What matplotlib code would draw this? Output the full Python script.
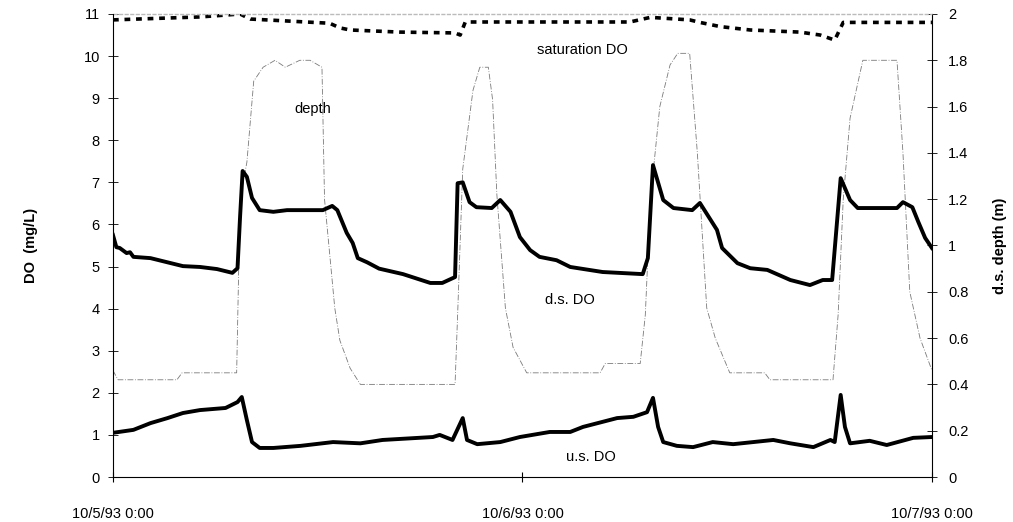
import matplotlib.pyplot as plt

plt.rcParams['font.family'] = ['Liberation Sans', 'DejaVu Sans']

# hours after 10/5/93 0:00
ds_hours = [0, 0.2, 0.4, 0.8, 1.0, 1.2, 2.2, 3.2, 4.1, 5.1, 6.1, 7.0, 7.3, 7.45, 7.6, 7.85,
            8.15, 8.6, 9.4, 10.2, 12.3, 12.85, 13.15, 13.7, 14.05, 14.35, 14.9, 15.6, 17.0,
            18.6, 19.3, 20.05, 20.2, 20.5, 20.9, 21.3, 22.2, 22.7, 23.3, 23.85, 24.45, 25.0,
            26.0, 26.8, 28.7, 31.05, 31.35, 31.65, 32.25, 32.85, 33.95, 34.4, 35.4, 35.7,
            36.6, 37.35, 38.35, 39.7, 40.85, 41.6, 42.15, 42.65, 43.2, 43.65, 45.95, 46.3,
            46.85, 47.2, 47.6, 48.0]
ds_do = [5.75, 5.46, 5.44, 5.32, 5.34, 5.23, 5.2, 5.1, 5.01, 4.99, 4.94, 4.85, 4.96, 6.18,
         7.27, 7.13, 6.63, 6.34, 6.3, 6.34, 6.34, 6.44, 6.34, 5.8, 5.56, 5.2, 5.1, 4.95, 4.82,
         4.61, 4.61, 4.75, 6.98, 7.0, 6.53, 6.41, 6.39, 6.58, 6.3, 5.7, 5.39, 5.23,
         5.15, 4.99, 4.87, 4.82, 5.2, 7.41, 6.58, 6.39, 6.34, 6.51, 5.87, 5.44,
         5.08, 4.96, 4.92, 4.68, 4.56, 4.68, 4.68, 7.1, 6.58, 6.39, 6.39, 6.53,
         6.41, 6.06, 5.68, 5.44]

us_hours = [0, 1.2, 2.2, 3.2, 4.1, 5.1, 6.6, 7.3, 7.55, 7.85, 8.15, 8.6, 9.4, 11.0, 12.9,
            14.5, 15.8, 18.75, 19.15, 19.9, 20.5, 20.75, 21.35, 22.7, 23.85, 25.6, 26.8,
            27.55, 29.55, 30.5, 31.3, 31.65, 31.95, 32.25, 33.05, 34.0, 35.15, 36.35, 38.7,
            39.7, 41.05, 42.05, 42.3, 42.65, 42.9, 43.2, 44.35, 45.35, 46.9, 48.0]
us_do = [1.05, 1.12, 1.28, 1.4, 1.52, 1.59, 1.64, 1.78, 1.9, 1.35, 0.83, 0.69, 0.69, 0.74,
         0.83, 0.8, 0.88, 0.95, 1.0, 0.88, 1.4, 0.88, 0.78, 0.83, 0.95, 1.07, 1.07,
         1.19, 1.4, 1.43, 1.54, 1.88, 1.19, 0.83, 0.74, 0.71, 0.83, 0.78, 0.88,
         0.8, 0.71, 0.88, 0.83, 1.95, 1.19, 0.8, 0.86, 0.76, 0.93, 0.95]

sat_hours = [0, 5.1, 7.45, 8.05, 12.7, 13.3, 13.9, 16.8, 20.05, 20.35, 20.65, 30.3, 31.5,
             33.8, 34.4, 35.6, 37.35, 40.25, 41.45, 42.3, 42.8, 48.0]
sat_do = [10.86, 10.93, 11.0, 10.88, 10.78, 10.67, 10.62, 10.57, 10.55, 10.5, 10.81, 10.81,
          10.92, 10.86, 10.8, 10.7, 10.62, 10.57, 10.5, 10.38, 10.8, 10.8]

depth_hours = [0, 0.3, 3.75, 4.05, 7.25, 7.45, 7.85, 8.25, 8.8, 9.5, 10.1, 10.95, 11.55,
               12.25, 12.4, 13.0, 13.3, 13.9, 14.5, 20.05, 20.2, 20.5, 21.1, 21.5, 22.0,
               22.25, 22.5, 23.0, 23.45, 24.25, 28.55, 28.85, 30.9, 31.2, 31.5, 32.05,
               32.65, 33.1, 33.8, 34.25, 34.8, 35.3, 36.15, 38.2, 38.5, 42.2, 42.5, 42.8,
               43.2, 43.95, 45.95, 46.3, 46.7, 47.3, 48.0]
depth_m = [0.46, 0.42, 0.42, 0.45, 0.45, 1.2, 1.36, 1.71, 1.77, 1.8, 1.77, 1.8, 1.8,
           1.77, 1.2, 0.73, 0.59, 0.47, 0.4, 0.4, 0.7, 1.33, 1.67, 1.77, 1.77,
           1.63, 1.22, 0.73, 0.56, 0.45, 0.45, 0.49, 0.49, 0.7, 1.2, 1.6,
           1.78, 1.83, 1.83, 1.4, 0.73, 0.6, 0.45, 0.45, 0.42, 0.42, 0.7, 1.2,
           1.55, 1.8, 1.8, 1.4, 0.8, 0.6, 0.46]

x_ticks = [0, 24, 48]
x_labels = ['10/5/93 0:00', '10/6/93 0:00', '10/7/93 0:00']
do_ticks = list(range(0, 12))
depth_ticks = [0, 0.2, 0.4, 0.6, 0.8, 1.0, 1.2, 1.4, 1.6, 1.8, 2.0]
depth_labels = ['0', '0.2', '0.4', '0.6', '0.8', '1', '1.2', '1.4', '1.6', '1.8', '2']

fig = plt.figure(figsize=(10.13, 5.22), dpi=100)
ax = fig.add_axes([0.1115, 0.0862, 0.8085, 0.887])
ax2 = ax.twinx()
ax.set_zorder(ax2.get_zorder() + 1)
ax.patch.set_visible(False)

# depth on right axis
ax2.plot(depth_hours, depth_m, color='#7a7a7a', lw=0.6, ls=(0, (7, 2, 1, 2)))
ax2.set_ylim(0, 2)
ax2.set_yticks(depth_ticks)
ax2.set_yticklabels(depth_labels)

ax.plot(ds_hours, ds_do, color='black', lw=2.8, solid_joinstyle='round')
ax.plot(us_hours, us_do, color='black', lw=2.8, solid_joinstyle='round')
ax.plot(sat_hours, sat_do, color='black', lw=2.6, ls=(0, (1.6, 1.6)))

ax.set_xlim(0, 48)
ax.set_ylim(0, 11)
ax.set_xticks(x_ticks)
ax.set_xticklabels(x_labels)
ax.set_yticks(do_ticks)

for a in (ax, ax2):
    a.spines['top'].set_visible(False)
ax2.spines['left'].set_visible(False)
ax2.spines['bottom'].set_visible(False)
ax.spines['right'].set_visible(False)
ax.axhline(11, color='#bbbbbb', lw=1.0, ls=(0, (3, 1)), clip_on=False)

ax.tick_params(axis='x', direction='inout', length=7, width=0.8, labelsize=10.5, pad=18)
ax.tick_params(axis='y', direction='inout', length=7, width=0.6, labelsize=10.5, pad=6)
ax2.tick_params(axis='y', direction='inout', length=7, width=0.6, labelsize=10.5, pad=8)

ax.set_ylabel('DO  (mg/L)', fontsize=10.5, fontweight='bold')
ax.yaxis.set_label_coords(-0.092, 0.5)
ax2.set_ylabel('d.s. depth (m)', fontsize=10.5, fontweight='bold')
ax2.yaxis.set_label_coords(1.075, 0.5)

ax.text(27.5, 10.14, 'saturation DO', fontsize=10.5, ha='center', va='center')
ax.text(11.7, 8.74, 'depth', fontsize=10.5, ha='center', va='center')
ax.text(26.8, 4.2, 'd.s. DO', fontsize=10.5, ha='center', va='center')
ax.text(28.0, 0.48, 'u.s. DO', fontsize=10.5, ha='center', va='center')

fig.savefig('out.png', dpi=100)
